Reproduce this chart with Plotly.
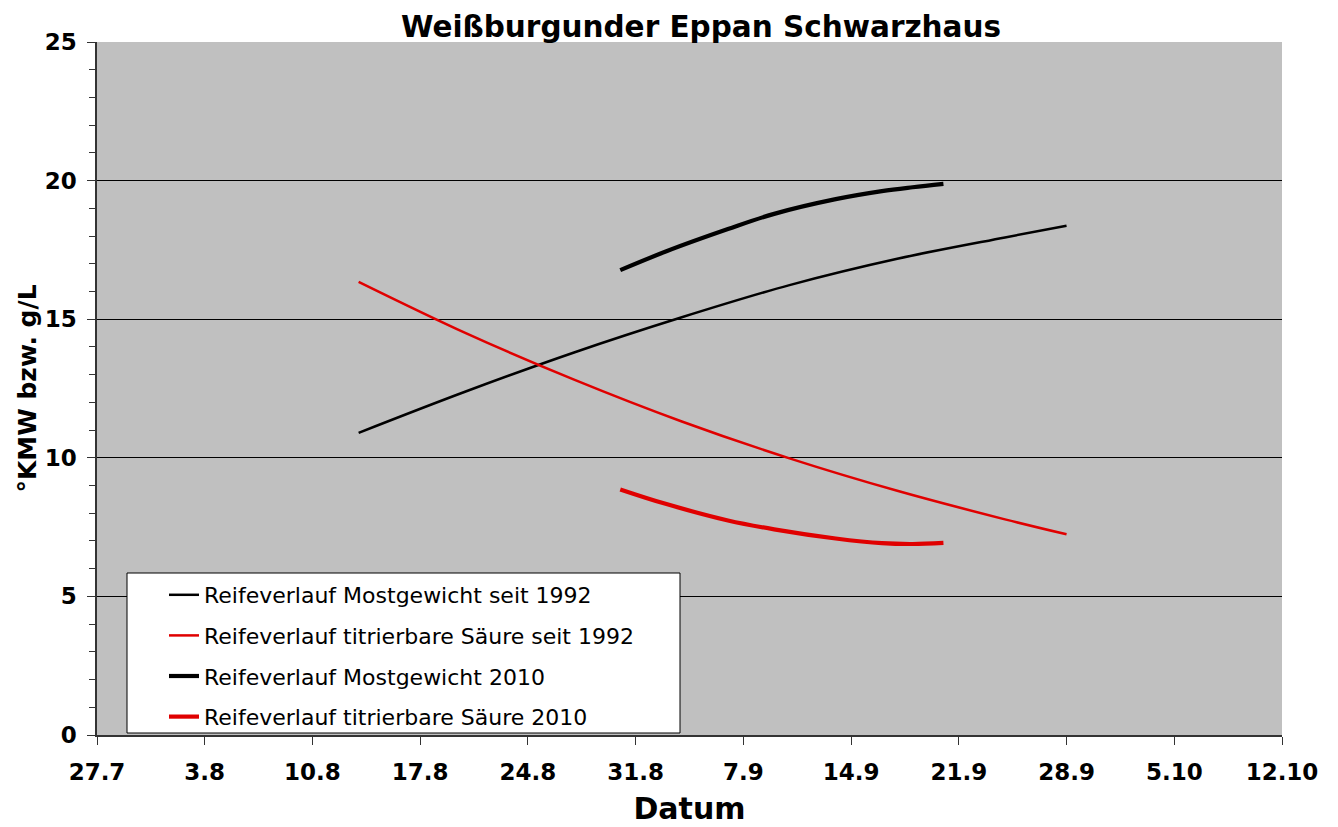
import plotly.graph_objects as go

# ---- data ----
dates_1992 = ["2010-08-13", "2010-08-20", "2010-08-27", "2010-09-03",
              "2010-09-10", "2010-09-17", "2010-09-24", "2010-09-28"]
must_1992 = [10.9, 12.4, 13.8, 15.07, 16.23, 17.18, 17.95, 18.37]
acid_1992 = [16.35, 14.49, 12.82, 11.31, 9.98, 8.81, 7.78, 7.24]

dates_2010 = ["2010-08-30", "2010-09-02", "2010-09-06", "2010-09-09",
              "2010-09-13", "2010-09-16", "2010-09-18", "2010-09-20"]
must_2010 = [16.77, 17.45, 18.25, 18.8, 19.33, 19.62, 19.76, 19.88]
acid_2010 = [8.86, 8.33, 7.74, 7.42, 7.09, 6.92, 6.89, 6.93]

tick_dates = ["2010-07-27", "2010-08-03", "2010-08-10", "2010-08-17", "2010-08-24",
              "2010-08-31", "2010-09-07", "2010-09-14", "2010-09-21", "2010-09-28",
              "2010-10-05", "2010-10-12"]
tick_labels = ["27.7", "3.8", "10.8", "17.8", "24.8", "31.8", "7.9", "14.9",
               "21.9", "28.9", "5.10", "12.10"]

series_names = ["Reifeverlauf Mostgewicht seit 1992",
                "Reifeverlauf titrierbare Säure seit 1992",
                "Reifeverlauf Mostgewicht 2010",
                "Reifeverlauf titrierbare Säure 2010"]

RED = "#E00000"
FONT = "DejaVu Sans"

fig = go.Figure()
fig.add_trace(go.Scatter(x=dates_1992, y=must_1992, mode="lines", name=series_names[0],
                         legendgroup="a", line=dict(color="black", width=2.5, shape="spline")))
fig.add_trace(go.Scatter(x=dates_1992, y=acid_1992, mode="lines", name=series_names[1],
                         legendgroup="b", line=dict(color=RED, width=2.5, shape="spline")))
fig.add_trace(go.Scatter(x=dates_2010, y=must_2010, mode="lines", name=series_names[2],
                         legendgroup="c", line=dict(color="black", width=4.2, shape="spline")))
fig.add_trace(go.Scatter(x=dates_2010, y=acid_2010, mode="lines", name=series_names[3],
                         legendgroup="d", line=dict(color=RED, width=4.2, shape="spline")))

OFF = 8  # page body margin
W, H = 1338 - OFF, 827 - OFF
L, R, T, B = 97 - OFF, 1282 - OFF, 42 - OFF, 735 - OFF
pw, ph = R - L, B - T


def px(x):
    return (x - OFF - L) / pw


def py(y):
    return (B - (y - OFF)) / ph


# legend box
fig.add_shape(type="rect", xref="paper", yref="paper",
              x0=px(127), x1=px(680), y0=py(733), y1=py(573),
              fillcolor="white", line=dict(color="black", width=1), layer="above")

fig.update_layout(
    width=W, height=H,
    margin=dict(l=L, r=W - R, t=T, b=H - B),
    paper_bgcolor="white",
    plot_bgcolor="#C0C0C0",
    font=dict(family=FONT, color="black"),
    title=dict(text="<b>Weißburgunder Eppan Schwarzhaus</b>",
               font=dict(family=FONT, size=29.5, color="black"),
               x=(701 - OFF) / W, xanchor="center", xref="container",
               y=1 - (27 - OFF) / H, yanchor="middle", yref="container"),
    showlegend=True,
    legend=dict(x=px(164), y=py(574), xanchor="left", yanchor="top",
                bgcolor="rgba(0,0,0,0)", borderwidth=0,
                font=dict(family=FONT, size=22, color="black"),
                tracegroupgap=9, itemwidth=30),
    xaxis=dict(
        type="date",
        range=[tick_dates[0], tick_dates[-1]],
        tickmode="array", tickvals=tick_dates, ticktext=tick_labels,
        ticks="outside", ticklen=8, tickcolor="#333333", tickwidth=1,
        showgrid=False, zeroline=False,
        showline=True, linecolor="#333333", linewidth=1.5,
        tickfont=dict(family=FONT, size=23, color="black", weight="bold"),
        ticklabelstandoff=8,
        title=dict(text="<b>Datum</b>", font=dict(family=FONT, size=30, color="black"),
                   standoff=14),
        automargin=False,
    ),
    yaxis=dict(
        range=[0, 25], dtick=5, tick0=0,
        ticks="outside", ticklen=8, tickcolor="#333333", tickwidth=1,
        minor=dict(dtick=1, ticks="outside", ticklen=6, tickcolor="#333333", showgrid=False),
        showgrid=True, gridcolor="black", gridwidth=1,
        zeroline=False,
        showline=True, linecolor="#333333", linewidth=1.5,
        tickfont=dict(family=FONT, size=23, color="black", weight="bold"),
        ticklabelstandoff=6,
        title=dict(text="<b>°KMW bzw. g/L</b>", font=dict(family=FONT, size=25, color="black"),
                   standoff=1),
        automargin=False,
    ),
)

fig.write_html("out.html")
